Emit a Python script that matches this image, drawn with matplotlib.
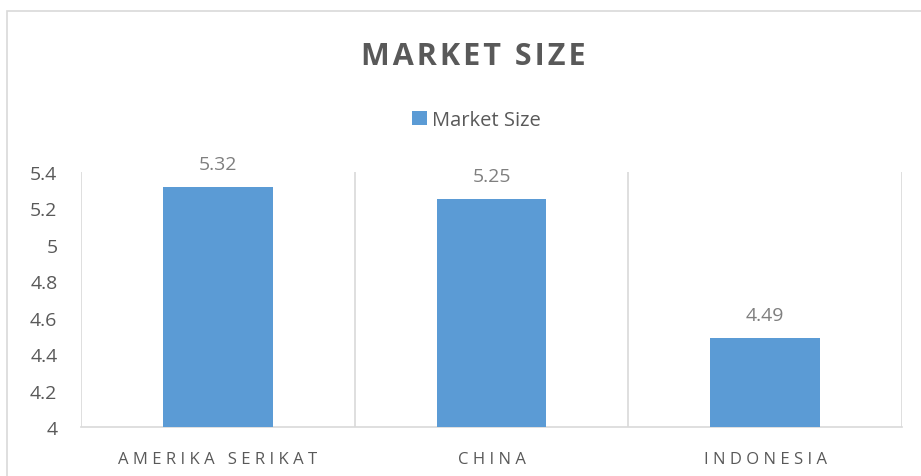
#!/usr/bin/env python3
"""Market size bar chart (Excel style)."""

import matplotlib
matplotlib.use("Agg")

import matplotlib.pyplot as plt
from matplotlib.patches import Rectangle

countries = ["AMERIKA SERIKAT", "CHINA", "INDONESIA"]
market_size = [5.32, 5.25, 4.49]
y_ticks = [4, 4.2, 4.4, 4.6, 4.8, 5, 5.2, 5.4]
y_tick_labels = ["4", "4.2", "4.4", "4.6", "4.8", "5", "5.2", "5.4"]

BAR_COLOR = "#5B9BD5"
TEXT_COLOR = "#595959"
LABEL_COLOR = "#7F7F7F"
LINE_COLOR = "#D9D9D9"
THIN = "\u2009"
HAIR = "\u200a"

plt.rcParams["font.family"] = ["Open Sans", "DejaVu Sans"]


def spaced(s: str, gap: str = THIN) -> str:
    # crude letter spacing, Excel style
    return gap.join(s)


W, H = 921, 477
fig = plt.figure(figsize=(W / 100, H / 100), dpi=100)

# chart area border (cut off at the right/bottom in the source)
fig.patches.append(Rectangle((7 / W, -0.1), 1.2, 1.1 - 12 / H,
                             transform=fig.transFigure, fill=False,
                             edgecolor=LINE_COLOR, linewidth=1.2))

ax = fig.add_axes([81 / W, 49 / H, (902 - 81) / W, (428 - 173) / H])

x = list(range(len(countries)))
bars = ax.bar(x, market_size, width=0.4, color=BAR_COLOR, zorder=3,
              label="Market Size")

ax.set_xlim(-0.5, len(countries) - 0.5)
ax.set_ylim(4, 5.4)
ax.set_yticks(y_ticks)
ax.set_yticklabels(y_tick_labels)
ax.set_xticks(x)
ax.set_xticklabels([spaced(c, THIN + HAIR) for c in countries])

for spine in ax.spines.values():
    spine.set_visible(False)
ax.spines["bottom"].set_visible(True)
ax.spines["bottom"].set_color(LINE_COLOR)
ax.spines["bottom"].set_linewidth(1.2)

# vertical category dividers
for b in [i - 0.5 for i in range(len(countries) + 1)]:
    ax.axvline(b, color=LINE_COLOR, linewidth=1.2, zorder=1)

ax.tick_params(axis="y", length=0, labelsize=14, colors=TEXT_COLOR, pad=17)
ax.tick_params(axis="x", length=0, labelsize=12, colors=TEXT_COLOR, pad=17)

for rect, v in zip(bars, market_size):
    ax.annotate(f"{v:g}", (rect.get_x() + rect.get_width() / 2, v),
                xytext=(0, 10), textcoords="offset points",
                ha="center", va="bottom", fontsize=14, color=LABEL_COLOR)

fig.text(473 / W, 1 - 57 / H, spaced("MARKET SIZE", HAIR), ha="center",
         va="center", fontsize=22, fontweight="bold", color=TEXT_COLOR)

fig.legend(loc="center", bbox_to_anchor=(476 / W, 1 - 121 / H), frameon=False,
           fontsize=14.5, labelcolor=TEXT_COLOR, handlelength=0.75,
           handleheight=0.75, handletextpad=0.25)

fig.savefig("out.png", dpi=100)
